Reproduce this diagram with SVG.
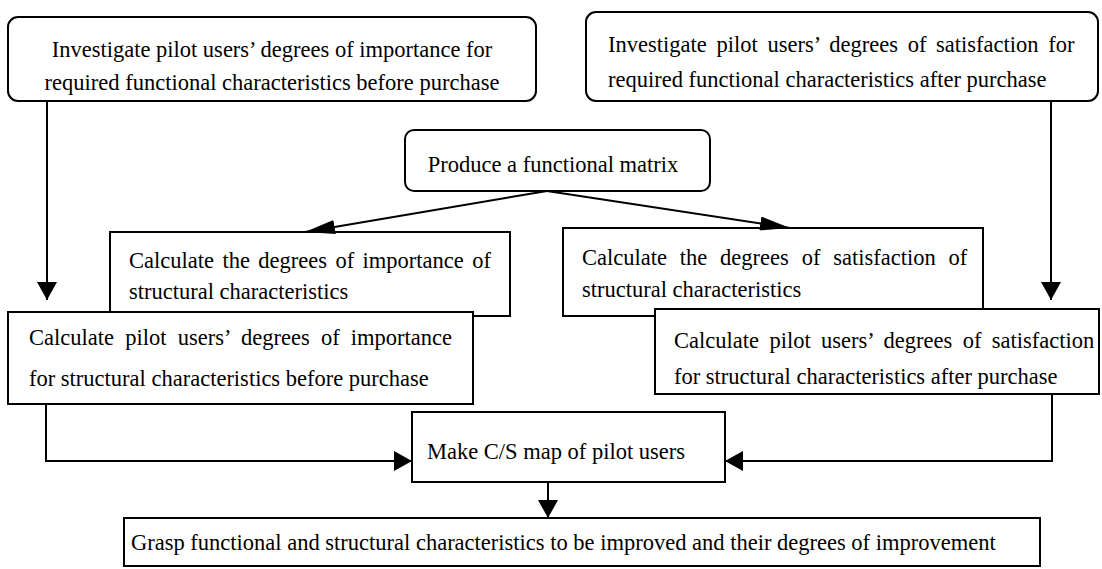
<svg xmlns="http://www.w3.org/2000/svg" width="1102" height="569" viewBox="0 0 1102 569">
<style>
.box{fill:#fff;stroke:#000;stroke-width:2}
text{font-family:'Liberation Serif','Times New Roman',serif;font-size:22.5px;fill:#000}
.c{fill:none;stroke:#000;stroke-width:2}
</style>
<defs>
<marker id="av" viewBox="0 0 10 10" refX="10" refY="5" markerWidth="18" markerHeight="20" markerUnits="userSpaceOnUse" orient="auto" preserveAspectRatio="none">
<path d="M0,0 L10,5 L0,10 z" fill="#000"/>
</marker>
<marker id="as" viewBox="0 0 10 10" refX="10" refY="5" markerWidth="30" markerHeight="14" markerUnits="userSpaceOnUse" orient="auto" preserveAspectRatio="none">
<path d="M0,0 L10,5 L0,10 z" fill="#000"/>
</marker>
</defs>
<g id="n1"><rect class="box" x="8" y="17" width="528" height="84" rx="10"/>
<text x="272" y="57" text-anchor="middle">Investigate pilot users’ degrees of importance for</text>
<text x="272" y="90" text-anchor="middle">required functional characteristics before purchase</text></g>
<g id="n2"><rect class="box" x="586" y="12" width="512" height="89" rx="10"/>
<text x="608" y="52" word-spacing="4.1">Investigate pilot users’ degrees of satisfaction for</text>
<text x="608" y="87">required functional characteristics after purchase</text></g>
<g id="n3"><rect class="box" x="405" y="130" width="305" height="61" rx="9"/>
<text x="553" y="172" text-anchor="middle">Produce a functional matrix</text></g>
<g id="n4"><rect class="box" x="110" y="232" width="400" height="84"/>
<text x="129" y="268" word-spacing="2.8">Calculate the degrees of importance of</text>
<text x="129" y="299">structural characteristics</text></g>
<g id="n5"><rect class="box" x="563" y="228" width="420" height="88"/>
<text x="582" y="265" word-spacing="7.2">Calculate the degrees of satisfaction of</text>
<text x="582" y="297">structural characteristics</text></g>
<g id="n6"><rect class="box" x="8" y="312" width="465" height="92"/>
<text x="29" y="345" word-spacing="5.6">Calculate pilot users’ degrees of importance</text>
<text x="29" y="386">for structural characteristics before purchase</text></g>
<g id="n7"><rect class="box" x="655" y="309" width="444" height="85"/>
<text x="674" y="348" word-spacing="4.8">Calculate pilot users’ degrees of satisfaction</text>
<text x="674" y="384">for structural characteristics after purchase</text></g>
<g id="n8"><rect class="box" x="412" y="412" width="313" height="70"/>
<text x="427" y="459">Make C/S map of pilot users</text></g>
<g id="n9"><rect class="box" x="124" y="518" width="916" height="48"/>
<text x="131" y="550">Grasp functional and structural characteristics to be improved and their degrees of improvement</text></g>
<g id="connectors">
<path class="c" d="M47,101 V300" marker-end="url(#av)"/>
<path class="c" d="M1051,101 V300" marker-end="url(#av)"/>
<path class="c" d="M547,191 L305,232" marker-end="url(#as)"/>
<path class="c" d="M547,191 L790,228" marker-end="url(#as)"/>
<path class="c" d="M46,404 V461 H412" marker-end="url(#av)"/>
<path class="c" d="M1052,394 V461 H725" marker-end="url(#av)"/>
<path class="c" d="M548,482 V518" marker-end="url(#av)"/>
</g>
</svg>
